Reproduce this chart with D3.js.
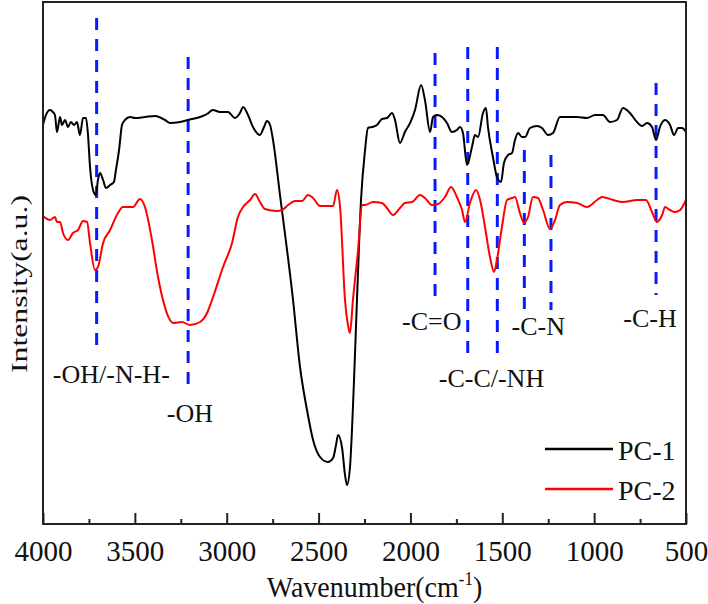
<!DOCTYPE html>
<html>
<head>
<meta charset="utf-8">
<script src="https://cdn.jsdelivr.net/npm/d3@7/dist/d3.min.js"></script>
<style>
  html, body { margin: 0; padding: 0; background: #fff; }
  svg { display: block; }
  text { font-family: "Liberation Serif", "Times New Roman", serif; fill: #111; }
</style>
</head>
<body>
<svg id="chart" width="708" height="604"></svg>
<script>
// ---- data (wavenumber cm^-1, intensity a.u.) ----
const pc1Wave = [4000,3984,3962,3946,3935,3924,3907,3897,3880,3864,3848,3831,3815,3799,3782,3766,3755,3744,3722,3712,3701,3690,3673,3657,3635,3614,3603,3586,3570,3554,3526,3499,3445,3390,3336,3309,3254,3211,3145,3107,3075,3037,2993,2955,2928,2911,2884,2857,2819,2797,2781,2764,2748,2710,2639,2601,2563,2530,2492,2449,2421,2405,2394,2372,2356,2345,2329,2307,2291,2269,2247,2231,2209,2182,2155,2128,2100,2084,2057,2030,2002,1975,1942,1921,1893,1877,1855,1828,1801,1774,1747,1730,1714,1692,1665,1649,1632,1605,1589,1578,1551,1529,1507,1491,1469,1447,1431,1414,1393,1376,1349,1311,1284,1251,1224,1186,1148,1093,1039,995,952,914,876,843,805,767,739,712,685,663,642,614,587,565,543,522,500];
const pc1Value = [79.8,81.8,82.8,82.4,81.8,78.4,81.4,79.8,80.8,79.4,80.4,79.8,80.4,77.8,81.2,81.2,77.8,71.4,66.2,65.8,68.8,70.2,68.8,67.2,67.8,68.4,70.8,74.8,79.8,80.8,81.4,81.2,81.4,81.6,80.8,80.2,80.4,80.8,81.4,82.0,82.8,82.4,82.4,81.2,82.2,83.4,81.8,79.4,77.8,79.4,80.6,79.8,76.8,65.8,44.8,31.4,22.8,16.8,13.4,12.4,13.2,15.8,17.8,15.2,9.8,7.8,11.4,28.8,44.8,64.8,74.8,79.2,79.4,79.8,81.0,81.2,82.2,80.8,76.2,78.4,80.2,82.8,87.8,84.8,78.4,81.4,81.8,81.4,80.2,78.4,78.8,79.4,78.2,71.8,75.4,77.8,77.4,82.2,83.2,79.4,73.4,69.4,68.4,72.2,73.8,74.2,76.8,78.2,77.4,77.4,79.2,79.6,79.2,77.8,78.2,81.4,81.4,81.4,81.2,81.8,81.8,80.4,80.8,83.2,82.2,80.4,79.6,80.2,79.4,76.8,79.4,80.8,79.8,77.8,79.2,79.2,78.4];

const pc2Wave = [4000,3978,3962,3935,3924,3907,3891,3864,3837,3809,3782,3760,3744,3717,3701,3673,3635,3592,3565,3510,3472,3445,3407,3374,3347,3309,3292,3243,3200,3145,3107,3080,3020,2971,2939,2911,2873,2846,2819,2792,2726,2699,2666,2628,2590,2558,2530,2492,2454,2421,2400,2383,2356,2340,2329,2313,2285,2264,2247,2204,2155,2128,2095,2057,2030,1991,1948,1921,1883,1850,1812,1779,1747,1719,1703,1676,1643,1621,1594,1567,1545,1529,1502,1474,1447,1431,1404,1382,1360,1333,1306,1278,1240,1213,1186,1148,1093,1039,984,957,897,843,767,718,685,658,630,614,587,560,532,500];
const pc2Value = [61.6,61.0,60.8,61.4,60.4,60.4,58.2,56.8,58.2,58.8,60.6,60.4,56.2,50.8,51.4,56.2,58.8,62.2,63.4,63.4,65.0,63.4,56.8,49.4,44.8,40.8,40.2,40.4,39.8,40.4,42.2,44.8,51.4,56.2,61.4,63.4,64.8,66.0,64.4,63.0,62.6,62.8,63.8,64.6,64.6,65.8,65.2,63.6,63.6,63.6,66.8,63.4,44.8,39.8,38.2,44.8,54.8,63.8,63.8,64.4,64.2,63.2,61.8,63.2,64.2,64.4,65.8,65.2,63.8,64.0,65.4,67.4,65.4,62.8,60.4,64.2,66.8,64.8,59.4,53.4,50.4,52.8,59.4,64.8,65.2,65.4,62.2,60.2,61.4,65.4,65.2,62.8,59.0,60.8,63.8,64.4,64.2,63.4,64.8,65.4,64.8,64.4,64.8,64.8,62.4,60.4,61.8,63.4,62.8,62.4,62.8,64.8];

const seriesNames = ["PC-1", "PC-2"];
const seriesColors = ["#000000", "#ff0000"];

// vertical marker lines: wavenumber, top and bottom intensity
const markerWave   = [3708, 3210, 1866, 1688, 1527, 1380, 1235, 663];
const markerTop    = [101.2, 93.4, 94.2, 95.4, 95.4, 74.8, 73.8, 88.2];
const markerBottom = [34.2, 26.2, 43.8, 33.2, 33.2, 42.8, 42.8, 45.8];

// band labels: text, wavenumber (center), intensity (baseline)
const bandText  = ["-OH/-N-H-", "-OH", "-C=O", "-C-C/-NH", "-C-N", "-C-H"];
const bandWave  = [3628, 3200, 1884, 1559, 1304, 696];
const bandValue = [28.2, 20.5, 38.8, 27.5, 37.8, 39.5];

const majorTicks = [4000, 3500, 3000, 2500, 2000, 1500, 1000, 500];
const minorTicks = [3750, 3250, 2750, 2250, 1750, 1250, 750];

// ---- layout ----
const L = 43, R = 686, T = 2, B = 524;
const svg = d3.select("#chart");

const x = d3.scaleLinear().domain([4000, 500]).range([L, R]);
const y = d3.scaleLinear().domain([0, 104.4]).range([B, T]);

// marker dashed lines
svg.append("g").selectAll("line")
  .data(markerWave.map((w, i) => ({w, t: markerTop[i], b: markerBottom[i]})))
  .join("line")
  .attr("x1", d => x(d.w)).attr("x2", d => x(d.w))
  .attr("y1", d => y(d.t)).attr("y2", d => y(d.b))
  .attr("stroke", "#0a1aff").attr("stroke-width", 3)
  .attr("stroke-dasharray", "12,9");

// curves
const line = d3.line().curve(d3.curveMonotoneX).x(d => x(d[0])).y(d => y(d[1]));
const pc1 = pc1Wave.map((w, i) => [w, pc1Value[i]]);
const pc2 = pc2Wave.map((w, i) => [w, pc2Value[i]]);
[pc1, pc2].forEach((s, i) => {
  svg.append("path").datum(s)
    .attr("d", line)
    .attr("fill", "none")
    .attr("stroke", seriesColors[i])
    .attr("stroke-width", 2)
    .attr("stroke-linejoin", "round");
});

// band labels
svg.append("g").selectAll("text")
  .data(bandText.map((t, i) => ({t, w: bandWave[i], v: bandValue[i]})))
  .join("text")
  .attr("x", d => x(d.w)).attr("y", d => y(d.v))
  .attr("text-anchor", "middle")
  .attr("font-size", 26)
  .text(d => d.t);

// frame
svg.append("rect")
  .attr("x", L).attr("y", T).attr("width", R - L).attr("height", B - T)
  .attr("fill", "none").attr("stroke", "#222").attr("stroke-width", 2);

// x axis (ticks inward)
const gx = svg.append("g").attr("transform", `translate(0,${B})`)
  .call(d3.axisBottom(x).tickValues(majorTicks).tickSizeInner(-11).tickSizeOuter(0).tickPadding(0).tickFormat(d3.format("d")));
gx.select(".domain").remove();
gx.selectAll(".tick line").attr("stroke", "#222").attr("stroke-width", 2);
gx.selectAll(".tick text")
  .attr("font-size", 29).attr("fill", "#111")
  .attr("y", 0).attr("dy", 0)
  .attr("transform", "translate(0,37)");

const gxm = svg.append("g").attr("transform", `translate(0,${B})`)
  .call(d3.axisBottom(x).tickValues(minorTicks).tickSizeInner(-5).tickSizeOuter(0).tickFormat(""));
gxm.select(".domain").remove();
gxm.selectAll(".tick line").attr("stroke", "#222").attr("stroke-width", 2);

// axis titles
const xt = svg.append("text")
  .attr("transform", `translate(${(L + R) / 2 + 10},597) scale(1,1.08)`)
  .attr("text-anchor", "middle").attr("font-size", 28);
xt.append("tspan").text("Wavenumber(cm");
xt.append("tspan").attr("font-size", 17).attr("dy", -11).text("-1");
xt.append("tspan").attr("dy", 11).text(")");

svg.append("text")
  .attr("transform", `translate(27,284) rotate(-90) scale(1.38,1)`)
  .attr("text-anchor", "middle").attr("font-size", 23)
  .text("Intensity(a.u.)");

// legend
const lg = svg.append("g");
seriesNames.forEach((n, i) => {
  const yy = 449 + i * 40;
  lg.append("line").attr("x1", 545).attr("x2", 613).attr("y1", yy).attr("y2", yy)
    .attr("stroke", seriesColors[i]).attr("stroke-width", 2.5);
  lg.append("text").attr("x", 618).attr("y", yy + 11).attr("font-size", 28).text(n);
});
</script>
</body>
</html>
